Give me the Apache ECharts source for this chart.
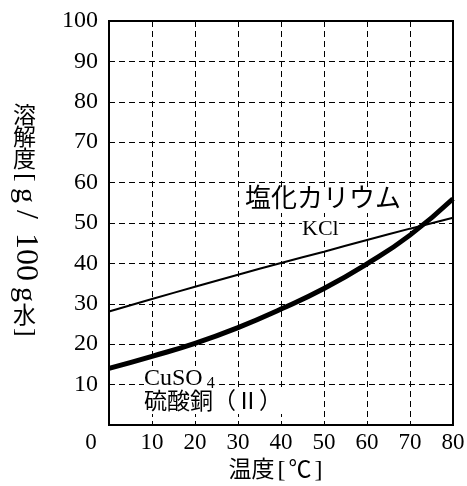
<!DOCTYPE html>
<html><head><meta charset="utf-8">
<script src="https://cdn.jsdelivr.net/npm/echarts@6/dist/echarts.min.js"></script>
<style>html,body{margin:0;padding:0;background:#fff}#c{width:467px;height:486px}</style>
</head><body><div id="c"></div>
<script>
var temps = [0, 10, 20, 30, 40, 50, 60, 70, 80];
var kcl = [28.1, 31.2, 34.2, 37.2, 40.1, 42.9, 45.8, 48.6, 51.3];
var cuso4 = [14.0, 17.0, 20.2, 24.1, 28.7, 33.8, 39.9, 47.0, 56.0];
var xTicks = [0, 10, 20, 30, 40, 50, 60, 70, 80];
var yTicks = [10, 20, 30, 40, 50, 60, 70, 80, 90, 100];

var SERIF = '"Liberation Serif","Noto Sans CJK JP",serif';
function pairs(xs, ys){ return xs.map(function(x,i){return [x, ys[i]];}); }

var chart = echarts.init(document.getElementById('c'), null, {renderer:'canvas'});
var dash = {color:'#000', width:1, type:[6,4]};
var txt = {fill:'#000', fontFamily:SERIF, fontSize:23};
function rot(s, y, fs){
  return {type:'text', x:25, y:y, rotation:-Math.PI/2,
    style:{text:s, fill:'#000', fontFamily:SERIF, fontSize:fs, align:'left', verticalAlign:'middle'}};
}
chart.setOption({
  animation:false,
  backgroundColor:'#fff',
  grid:{left:109, right:14, top:21, bottom:61, outerBoundsMode:'none', containLabel:false,
    show:true, borderColor:'#000', borderWidth:2, backgroundColor:'transparent'},
  xAxis:{type:'value', min:0, max:80, interval:10,
    axisLine:{lineStyle:{color:'#000', width:2}}, axisTick:{show:false},
    splitLine:{show:true, lineStyle:dash},
    axisLabel:{color:'#000', fontFamily:SERIF, fontSize:23, margin:6,
      formatter:function(v){ return v===0 ? '{z|0}' : (xTicks.indexOf(v)>=0 ? String(v) : ''); },
      rich:{z:{fontFamily:SERIF, fontSize:23, color:'#000', padding:[0,36,0,0]}}},
    name:'{a|温度}{b|[}{a|℃}{b|]}', nameLocation:'middle', nameGap:34,
    nameTextStyle:{color:'#000', fontFamily:SERIF, fontSize:23, padding:[0,8,0,0],
      rich:{a:{fontFamily:SERIF, fontSize:23, color:'#000'},
            b:{fontFamily:SERIF, fontSize:24, color:'#000', padding:[0,3,0,3]}}}
  },
  yAxis:{type:'value', min:0, max:100, interval:10,
    axisLine:{lineStyle:{color:'#000', width:2}}, axisTick:{show:false},
    splitLine:{show:true, lineStyle:dash},
    axisLabel:{color:'#000', fontFamily:SERIF, fontSize:24, margin:11,
      formatter:function(v){ return yTicks.indexOf(v)>=0 ? String(v) : ''; }}
  },
  series:[
    {type:'line', data:pairs(temps,kcl), smooth:true, symbol:'none', lineStyle:{color:'#000', width:2}, z:3},
    {type:'line', data:pairs(temps,cuso4), smooth:true, symbol:'none', lineStyle:{color:'#000', width:5}, z:3}
  ],
  graphic:[
    {type:'text', left:245, top:187, z:10, style:Object.assign({}, txt, {text:'塩化カリウム', fontSize:26, backgroundColor:'#fff'})},
    {type:'text', left:302, top:218, z:10, style:Object.assign({}, txt, {text:'KCl', fontSize:22, backgroundColor:'#fff'})},
    {type:'text', left:144, top:366, z:10, style:Object.assign({}, txt, {text:'CuSO{s|4}', fontSize:24, backgroundColor:'#fff', rich:{s:{fontFamily:SERIF, fontSize:16, padding:[10,0,0,4], fill:'#000'}}})},
    {type:'text', left:144, top:391, z:10, style:Object.assign({}, txt, {text:'硫酸銅（Ⅱ）', fontSize:23, backgroundColor:'#fff'})},
    {type:'text', left:13, top:105, style:Object.assign({}, txt, {text:'溶'})},
    {type:'text', left:13, top:127, style:Object.assign({}, txt, {text:'解'})},
    {type:'text', left:13, top:149, style:Object.assign({}, txt, {text:'度'})},
    rot('[', 173, 26),
    rot('g', 188, 30),
    rot('/', 210, 32),
    rot('100', 233, 32),
    rot('g', 287, 30),
    {type:'text', left:13, top:305, style:Object.assign({}, txt, {text:'水'})},
    rot(']', 328, 26)
  ]
});
</script></body></html>
